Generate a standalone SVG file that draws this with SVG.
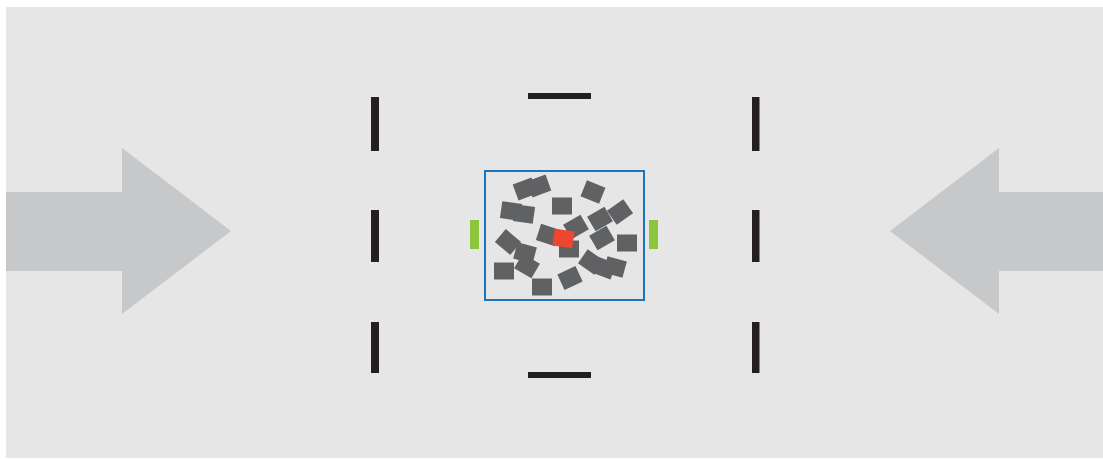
<svg xmlns="http://www.w3.org/2000/svg" width="1103" height="459" viewBox="0 0 1103 459">
<style>
.arrow{fill:#c7c8ca}
.bar{fill:#231f20}
.p{fill:#606163}
.gate{fill:#8cc63f}
</style>
<defs>
<rect id="sq" x="-10" y="-8.5" width="20" height="17"/>
</defs>
<rect x="0" y="0" width="1103" height="459" fill="#ffffff"/>
<rect id="background" x="6" y="7" width="1097" height="451" fill="#e6e6e6"/>
<g id="connectors">
<polygon id="arrow-left" class="arrow" points="6,192 122,192 122,148 231,231 122,314 122,271 6,271"/>
<polygon id="arrow-right" class="arrow" points="1103,192 999,192 999,148 890,231 999,314 999,271 1103,271"/>
</g>
<g id="barrier-left">
<rect class="bar" x="371" y="97" width="8" height="54"/>
<rect class="bar" x="371" y="210" width="8" height="52"/>
<rect class="bar" x="371" y="322" width="8" height="51"/>
</g>
<g id="barrier-right">
<rect class="bar" x="752" y="97" width="7.5" height="54"/>
<rect class="bar" x="752" y="210" width="7.5" height="52"/>
<rect class="bar" x="752" y="322" width="7.5" height="51"/>
</g>
<g id="barrier-top"><rect class="bar" x="528" y="93" width="63" height="6"/></g>
<g id="barrier-bottom"><rect class="bar" x="528" y="372" width="63" height="6"/></g>
<g id="gates">
<rect class="gate" x="470" y="220" width="9" height="29"/>
<rect class="gate" x="649" y="220" width="9" height="29"/>
</g>
<g id="chamber">
<rect x="485" y="171" width="159" height="129" fill="none" stroke="#1c75bc" stroke-width="2"/>
<g class="p">
<use href="#sq" transform="translate(525,189) rotate(-20)"/>
<use href="#sq" transform="translate(539,186) rotate(-20)"/>
<use href="#sq" transform="translate(593,192) rotate(22)"/>
<use href="#sq" transform="translate(511,211) rotate(8)"/>
<use href="#sq" transform="translate(524,214) rotate(8)"/>
<use href="#sq" transform="translate(562,206)"/>
<use href="#sq" transform="translate(600,219) rotate(-30)"/>
<use href="#sq" transform="translate(620,212) rotate(-35)"/>
<use href="#sq" transform="translate(576,227) rotate(-30)"/>
<use href="#sq" transform="translate(548,235) rotate(18)"/>
<use href="#sq" transform="translate(569,249)"/>
<use href="#sq" transform="translate(602,238) rotate(-30)"/>
<use href="#sq" transform="translate(627,243)"/>
<use href="#sq" transform="translate(508,242) rotate(40)"/>
<use href="#sq" transform="translate(525,253) rotate(15)"/>
<use href="#sq" transform="translate(527,266) rotate(30)"/>
<use href="#sq" transform="translate(504,271)"/>
<use href="#sq" transform="translate(542,287)"/>
<use href="#sq" transform="translate(570,278) rotate(-25)"/>
<use href="#sq" transform="translate(591,262) rotate(35)"/>
<use href="#sq" transform="translate(604,268) rotate(20)"/>
<use href="#sq" transform="translate(615,267) rotate(15)"/>
</g>
<use href="#sq" fill="#ef4630" transform="translate(563.5,238.5) rotate(8)"/>
</g>
</svg>
